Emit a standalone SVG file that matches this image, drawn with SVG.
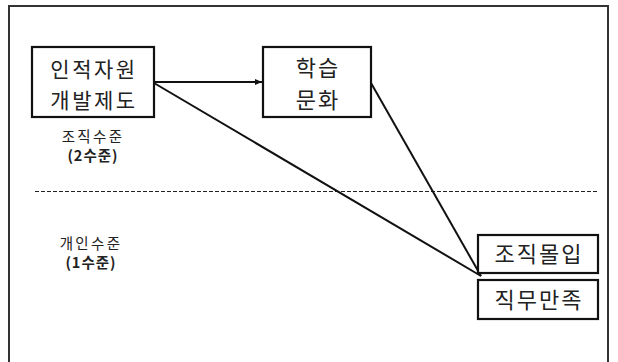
<svg xmlns="http://www.w3.org/2000/svg" width="618" height="362" viewBox="0 0 618 362">
<style>
.box{fill:#fff;stroke:#111;stroke-width:2.2}
.big{font-family:"Noto Sans CJK KR","Noto Sans",sans-serif;font-size:22px;fill:#222;text-anchor:middle;letter-spacing:2px}
.two{font-size:21px;letter-spacing:2.5px}
.small{font-family:"Noto Sans CJK KR","Noto Sans",sans-serif;font-size:14.5px;fill:#222;text-anchor:middle;letter-spacing:2.3px}
.bold{font-weight:bold;letter-spacing:1px}
.conn{stroke:#111;stroke-width:2;fill:none}
</style>
<defs>
<marker id="arr" markerWidth="8" markerHeight="8" refX="7" refY="4" orient="auto" markerUnits="userSpaceOnUse">
<path d="M0,1 L7,4 L0,7 z" fill="#111"/>
</marker>
</defs>
<rect x="0" y="0" width="618" height="362" fill="#fff"/>
<rect x="9" y="6" width="599" height="370" fill="none" stroke="#333" stroke-width="2"/>
<line x1="35" y1="191.5" x2="599" y2="191.5" stroke="#222" stroke-width="1.2" stroke-dasharray="4,2"/>
<g id="labels">
<text class="small" x="93" y="142">조직수준</text>
<text class="small bold" x="93" y="161">(2수준)</text>
<text class="small" x="91" y="249">개인수준</text>
<text class="small bold" x="91" y="268">(1수준)</text>
</g>
<g id="connectors">
<line class="conn" x1="154" y1="82" x2="262" y2="82" marker-end="url(#arr)"/>
<line class="conn" x1="154" y1="83" x2="481" y2="276"/>
<line class="conn" x1="371" y1="83" x2="481" y2="276"/>
</g>
<g id="hrd">
<rect class="box" x="32" y="47" width="122" height="70"/>
<text class="big two" x="94" y="76.5">인적자원</text>
<text class="big two" x="94" y="107.5">개발제도</text>
</g>
<g id="culture">
<rect class="box" x="263" y="47" width="108" height="70"/>
<text class="big" x="318" y="76">학습</text>
<text class="big" x="318" y="108">문화</text>
</g>
<g id="commitment">
<rect class="box" x="478" y="235" width="120" height="38"/>
<text class="big" x="539" y="262">조직몰입</text>
</g>
<g id="satisfaction">
<rect class="box" x="478" y="280" width="120" height="39"/>
<text class="big" x="539" y="308">직무만족</text>
</g>
</svg>
